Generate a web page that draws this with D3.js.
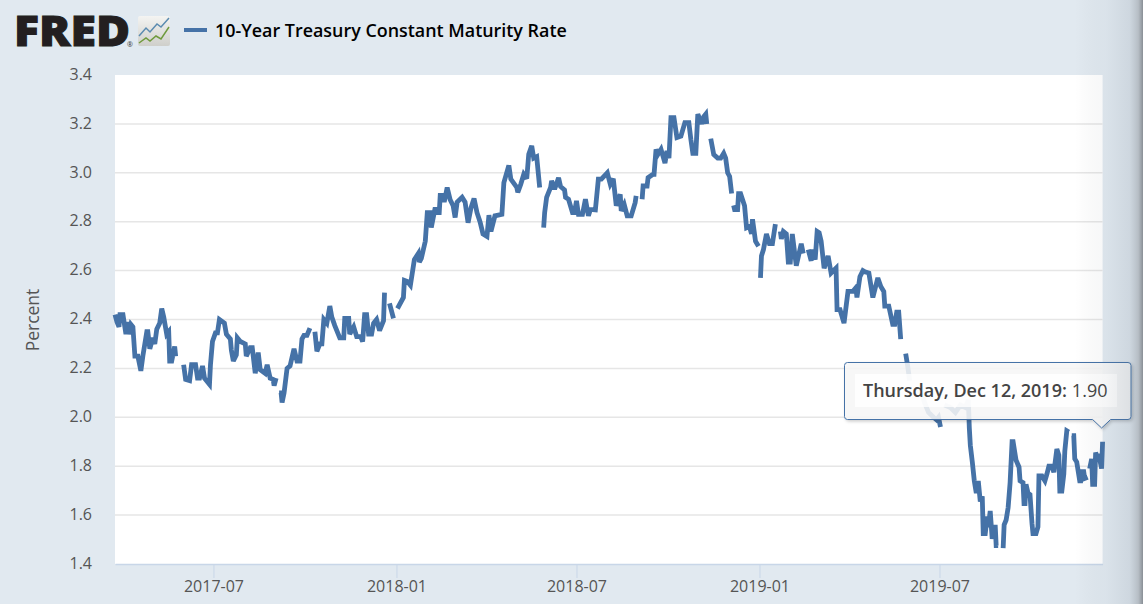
<!DOCTYPE html>
<html><head><meta charset="utf-8">
<script src="https://cdnjs.cloudflare.com/ajax/libs/d3/7.8.5/d3.min.js"></script>
<style>
html,body{margin:0;padding:0;background:#e1e9f0;overflow:hidden}
svg{display:block}
text{font-family:"Open Sans",sans-serif}
</style></head><body>
<svg id="c" width="1143" height="604"></svg>
<script>
const seriesName = "10-Year Treasury Constant Maturity Rate";
const yAxisTitle = "Percent";
const firstDate = "2017-03-24";
const lastDate = "2019-12-12";
const yTicks = [1.4,1.6,1.8,2.0,2.2,2.4,2.6,2.8,3.0,3.2,3.4];
const xTicks = ["2017-07-01","2018-01-01","2018-07-01","2019-01-01","2019-07-01"];
const tooltipDate = "Thursday, Dec 12, 2019:";
const tooltipValue = "1.90";
// days since firstDate; a null rate is a missing stretch in the series
const observationDay = [
0,2,4,5,8,11,12,14,16,18,20,23,26,28,32,33,35,38,40,42,45,47,49,52,54,55,57,60,61,62,
69,71,75,77,81,83,85,88,90,95,96,98,101,103,105,110,112,116,117,119,122,123,126,131,132,136,138,141,144,146,151,153,156,159,160,162,164,
165,167,168,170,173,176,180,183,186,188,190,193,196,198,
201,203,206,208,210,213,216,218,221,226,230,231,235,236,240,243,247,249,251,253,255,258,260,263,266,270,271,272,
276,280,281,
284,290,291,294,297,301,305,306,308,312,314,317,318,322,323,326,327,330,331,334,337,340,342,344,349,352,355,358,361,364,367,370,374,376,378,382,389,391,396,398,404,405,408,411,414,416,419,421,424,427,429,
431,432,434,438,439,442,446,448,452,453,456,460,462,464,466,470,473,476,478,483,486,489,495,498,501,504,508,509,512,515,519,523,524,526,
530,531,535,536,541,542,544,546,549,553,555,557,559,562,565,569,573,577,579,581,584,586,590,592,594,595,597,
599,602,606,609,612,614,616,618,620,621,
622,623,626,627,629,633,635,638,640,641,644,647,648,
649,650,652,655,658,661,664,666,
669,670,672,675,677,679,681,685,690,692,694,
697,700,701,704,706,708,710,713,717,720,725,726,729,733,737,742,745,746,749,752,754,758,762,767,770,773,774,778,782,784,786,788,790,792,
795,797,799,801,
810,814,818,823,826,828,830,832,
834,840,845,850,855,858,859,860,862,864,866,868,870,872,873,875,877,878,880,882,885,886,888,890,
893,894,896,898,900,902,903,906,909,910,913,914,915,916,918,920,922,923,926,928,929,932,935,937,939,942,944,947,949,950,952,954,955,957,959,960,
962,964,965,967,970,971,972,974,975,978,979,
980,982,983,985,986,988,989,992,993];
const rate = [
2.42,2.39,2.37,2.42,2.42,2.34,2.39,2.34,2.38,2.37,2.25,2.25,2.19,2.25,2.35,2.35,2.28,2.325,2.30,2.36,2.385,2.445,2.41,2.34,2.35,2.23,2.23,2.29,2.25,null,
2.215,2.155,2.15,2.215,2.215,2.16,2.16,2.21,2.16,2.135,2.215,2.31,2.345,2.345,2.40,2.385,2.34,2.32,2.275,2.23,2.255,2.325,2.31,2.30,2.25,2.285,2.285,2.18,2.265,2.195,2.18,2.215,2.16,2.155,2.13,2.16,null,
2.10,2.10,2.06,2.10,2.20,2.21,2.28,2.23,2.23,2.32,2.335,2.335,2.365,null,
2.35,2.27,2.30,2.30,2.40,2.385,2.455,2.41,2.375,2.325,2.325,2.405,2.405,2.34,2.37,2.33,2.33,2.31,2.42,2.42,2.34,2.34,2.385,2.40,2.355,2.395,2.51,null,
2.466,2.405,null,
2.445,2.49,2.56,2.555,2.54,2.645,2.67,2.635,2.65,2.72,2.837,2.837,2.776,2.858,2.837,2.837,2.908,2.908,2.88,2.94,2.89,2.865,2.817,2.88,2.90,2.88,2.796,2.858,2.895,2.837,2.80,2.75,2.74,2.827,2.76,2.824,2.83,2.96,3.03,2.974,2.94,2.92,2.953,2.994,2.976,3.076,3.11,3.06,3.066,2.94,null,
2.776,2.837,2.90,2.94,2.967,2.933,2.98,2.944,2.93,2.90,2.892,2.837,2.837,2.885,2.83,2.83,2.892,2.824,2.85,2.848,2.974,2.974,3.0,2.953,2.976,2.865,2.912,2.844,2.87,2.824,2.824,2.878,2.906,null,
2.892,2.946,2.946,2.98,2.994,2.994,3.096,3.076,3.096,3.04,3.09,3.06,3.226,3.226,3.144,3.15,3.205,3.205,3.137,3.08,3.08,3.24,3.2,3.23,3.24,3.2,null,
3.14,3.075,3.06,3.06,3.08,3.06,3.0,2.985,2.915,null,
2.867,2.85,2.85,2.915,2.915,2.865,2.775,2.78,2.75,2.81,2.72,2.70,null,
2.57,2.66,2.686,2.75,2.71,2.71,2.79,null,
2.76,2.73,2.76,2.75,2.635,2.635,2.75,2.62,2.71,2.67,null,
2.686,2.64,2.686,2.645,2.76,2.755,2.72,2.61,2.66,2.59,2.61,2.44,2.44,2.385,2.515,2.515,2.53,2.49,2.575,2.6,2.595,2.59,2.49,2.57,2.535,2.515,2.455,2.455,2.38,2.38,2.43,2.43,2.32,null,
2.26,2.21,2.15,null,
2.12,2.06,2.02,2.0,1.99,2.0,1.96,null,
2.05,2.04,2.02,2.05,2.04,2.07,1.956,1.886,1.817,1.74,1.69,1.74,1.656,1.677,1.524,1.524,1.594,1.55,1.617,1.503,1.56,1.475,1.475,null,
1.465,1.56,1.58,1.63,1.733,1.90,1.90,1.824,1.796,1.74,1.733,1.647,1.647,1.726,1.69,1.684,1.566,1.524,1.524,1.552,1.76,1.76,1.74,1.768,1.80,1.80,1.775,1.87,1.845,1.698,1.698,1.768,1.861,1.945,1.94,null,
1.925,1.925,1.83,1.817,1.74,1.74,1.778,1.778,1.75,1.755,null,
1.79,1.83,1.726,1.726,1.856,1.83,1.85,1.79,1.90];

const parse = d3.utcParse("%Y-%m-%d");
const svg = d3.select("#c");
const defs = svg.append("defs");
const L = 115, R = 1102.6, T = 75, B = 564;
const x = d3.scaleUtc().domain([parse(firstDate), parse(lastDate)]).range([L, R]);
const y = d3.scaleLinear().domain([1.4, 3.4]).range([B, T]);

svg.append("rect").attr("width",1143).attr("height",604).attr("fill","#e1e9f0");
svg.append("rect").attr("x",L).attr("y",T).attr("width",R-L).attr("height",B-T).attr("fill","#fff");

// grid
svg.append("g").selectAll("line").data(yTicks.filter(v=>v>1.4&&v<3.4)).join("line")
  .attr("x1",L).attr("x2",R).attr("y1",d=>y(d)).attr("y2",d=>y(d))
  .attr("stroke","#e6e6e6").attr("stroke-width",1.5);

// axes
const gy = svg.append("g").attr("transform",`translate(${L-23},-1.5)`)
  .call(d3.axisLeft(y).tickValues(yTicks).tickFormat(d3.format(".1f")).tickSize(0).tickPadding(0));
gy.select(".domain").remove();
gy.selectAll("text").attr("font-size",16).attr("fill","#555").attr("font-family",'"Open Sans",sans-serif').attr("dy","0.36em");

const gx = svg.append("g").attr("transform",`translate(0,${B})`)
  .call(d3.axisBottom(x).tickValues(xTicks.map(parse)).tickFormat(d3.utcFormat("%Y-%m")).tickSize(14).tickSizeOuter(0).tickPadding(3));
gx.select(".domain").attr("stroke","#c8d6e8").attr("stroke-width",1.5);
gx.selectAll(".tick line").attr("stroke","#c8d6e8");
gx.selectAll("text").attr("font-size",16).attr("fill","#555").attr("font-family",'"Open Sans",sans-serif');

svg.append("text").attr("transform","translate(39,320) rotate(-90)").attr("text-anchor","middle")
  .attr("font-size",17.5).attr("fill","#555").text(yAxisTitle);

// series
const points = observationDay.map((d,i)=>({date:d3.utcDay.offset(parse(firstDate),d),v:rate[i]}));
const line = d3.line().defined(d=>d.v!==null).x(d=>x(d.date)).y(d=>y(d.v));
svg.append("path").attr("d",line(points)).attr("fill","none").attr("stroke","#4572a7")
  .attr("stroke-width",4.8).attr("stroke-linejoin","miter").attr("stroke-miterlimit",3);

// legend / header
svg.append("line").attr("x1",184).attr("x2",207).attr("y1",30).attr("y2",30).attr("stroke","#4572a7").attr("stroke-width",4);
svg.append("text").attr("x",215).attr("y",36.5).attr("font-size",17.9).attr("font-weight",600).attr("fill","#000").text(seriesName);

// logo
svg.append("text").attr("x",14).attr("y",46).attr("font-size",42).attr("font-weight",800)
  .attr("font-family",'"Open Sans",sans-serif').attr("textLength",116).attr("lengthAdjust","spacingAndGlyphs")
  .attr("fill","#231f20").attr("stroke","#231f20").attr("stroke-width",1).text("FRED");
svg.append("text").attr("x",127).attr("y",47).attr("font-size",7).attr("fill","#333").text("®");
const g0 = defs.append("linearGradient").attr("id","ic").attr("x1",0).attr("y1",0).attr("x2",0).attr("y2",1);
g0.append("stop").attr("offset",0).attr("stop-color","#f4f4f2");
g0.append("stop").attr("offset",1).attr("stop-color","#cfcfcb");
svg.append("rect").attr("x",138).attr("y",16).attr("width",32).attr("height",30).attr("rx",2).attr("fill","url(#ic)");
const logoLine = d3.line();
const logoBlue = [[139,36],[146,28],[150,32],[157,24],[161,27],[169,18]];
const logoGreen = [[139,43],[146,38],[150,41],[156,36],[161,39],[169,27]];
svg.append("path").attr("d",logoLine(logoBlue)).attr("fill","none").attr("stroke","#5b8bb0").attr("stroke-width",1.5);
svg.append("path").attr("d",logoLine(logoGreen)).attr("fill","none").attr("stroke","#6f9a3c").attr("stroke-width",1.5);

// tooltip
const f = defs.append("filter").attr("id","sh").attr("x","-5%").attr("y","-20%").attr("width","110%").attr("height","150%");
f.append("feDropShadow").attr("dx",1.5).attr("dy",1.5).attr("stdDeviation",1.5).attr("flood-color","#000").attr("flood-opacity",0.22);
const tx0=844.5, tx1=1131, ty0=362.5, ty1=419.5, tipX=x(parse(lastDate))-1, tipY=428, r=3;
const tipPath = d3.path();
tipPath.moveTo(tx0+r,ty0); tipPath.lineTo(tx1-r,ty0); tipPath.quadraticCurveTo(tx1,ty0,tx1,ty0+r);
tipPath.lineTo(tx1,ty1-r); tipPath.quadraticCurveTo(tx1,ty1,tx1-r,ty1);
tipPath.lineTo(tipX+9,ty1); tipPath.lineTo(tipX,tipY); tipPath.lineTo(tipX-9,ty1);
tipPath.lineTo(tx0+r,ty1); tipPath.quadraticCurveTo(tx0,ty1,tx0,ty1-r);
tipPath.lineTo(tx0,ty0+r); tipPath.quadraticCurveTo(tx0,ty0,tx0+r,ty0); tipPath.closePath();
svg.append("path").attr("d",tipPath.toString()).attr("fill","rgba(249,249,249,0.85)").attr("stroke","#4572a7").attr("stroke-width",1).attr("filter","url(#sh)");
svg.append("rect").attr("x",855).attr("y",374).attr("width",262).attr("height",33).attr("fill","#fff").attr("fill-opacity",0.8);
const tt = svg.append("text").attr("x",863).attr("y",396.5).attr("font-size",18).attr("fill","#444");
tt.append("tspan").attr("font-weight",600).text(tooltipDate);
tt.append("tspan").attr("dx",5).text(tooltipValue);

// right scrollbar shade
const g1 = defs.append("linearGradient").attr("id","shade");
g1.append("stop").attr("offset",0).attr("stop-color","#000").attr("stop-opacity",0);
g1.append("stop").attr("offset",0.45).attr("stop-color","#5a6a7a").attr("stop-opacity",0.05);
g1.append("stop").attr("offset",0.8).attr("stop-color","#5a6a7a").attr("stop-opacity",0.14);
g1.append("stop").attr("offset",0.93).attr("stop-color","#4a5058").attr("stop-opacity",0.28);
g1.append("stop").attr("offset",1).attr("stop-color","#30343a").attr("stop-opacity",0.5);
svg.append("rect").attr("x",1075).attr("y",0).attr("width",68).attr("height",604).attr("fill","url(#shade)");
</script>
</body></html>
